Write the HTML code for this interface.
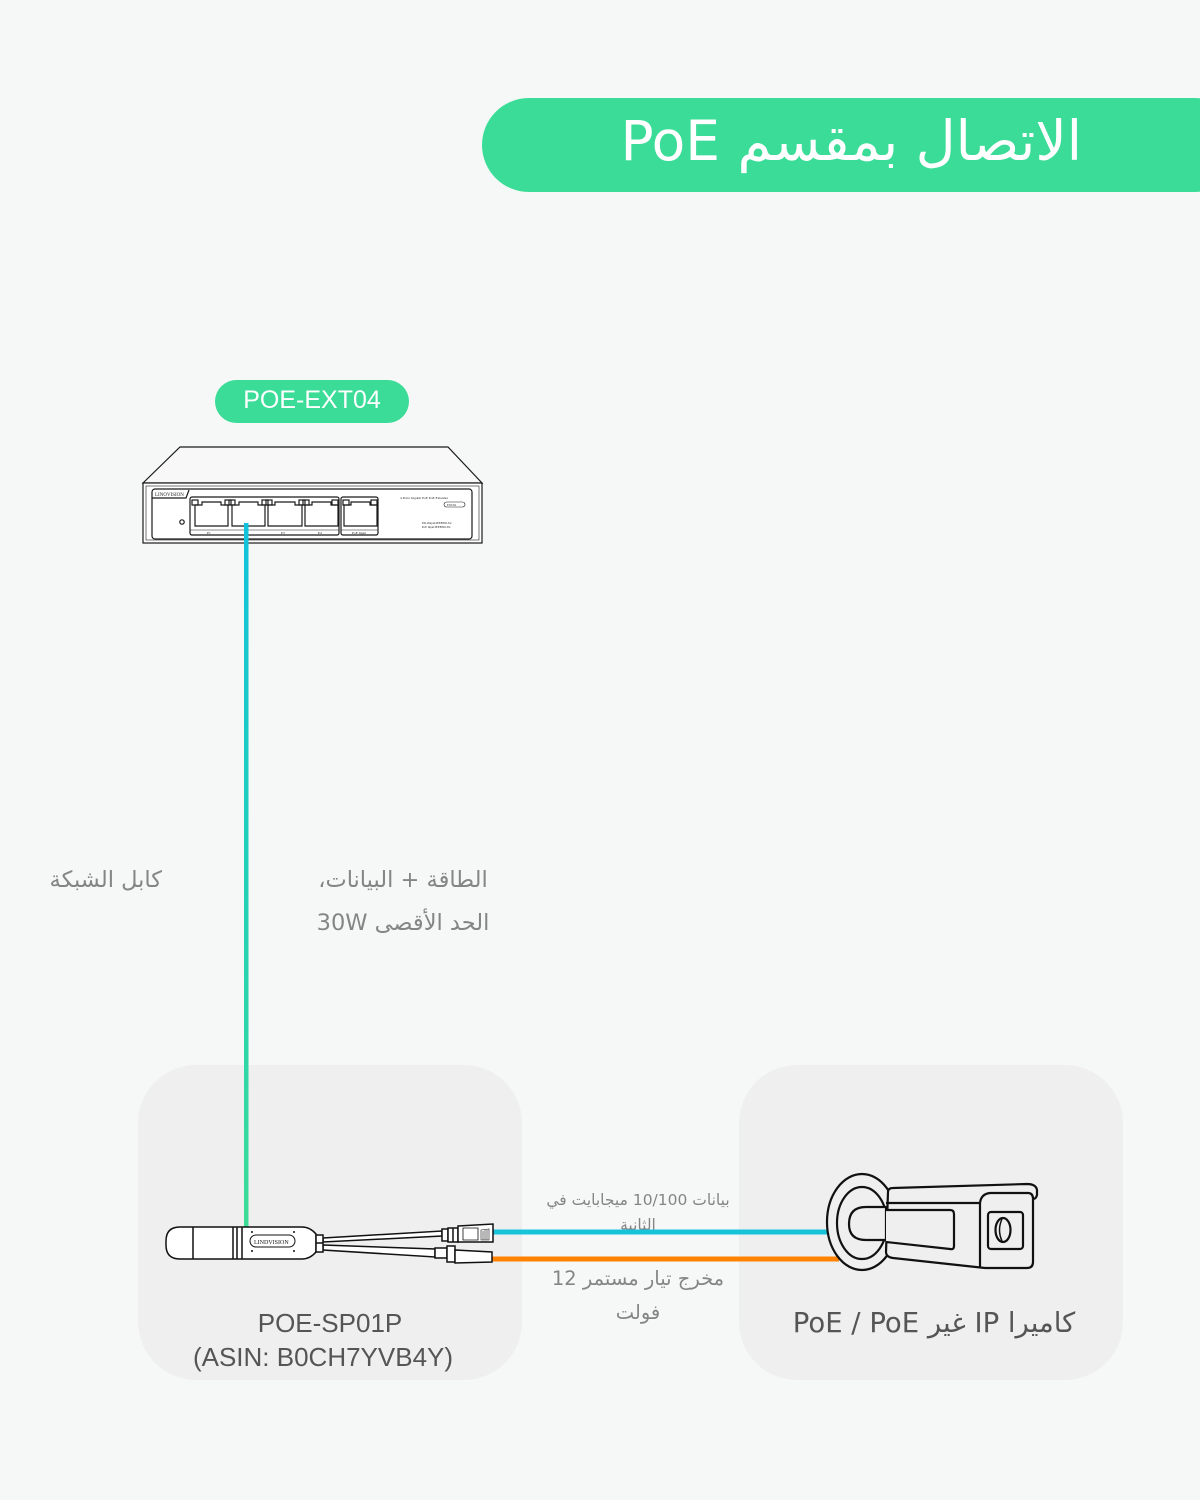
<!DOCTYPE html>
<html>
<head>
<meta charset="utf-8">
<style>
html,body{margin:0;padding:0;}
body{width:1200px;height:1500px;background:#f6f8f7;position:relative;overflow:hidden;font-family:"Liberation Sans","DejaVu Sans",sans-serif;}
.abs{position:absolute;}
.pill{position:absolute;left:482px;top:98px;width:760px;height:94px;background:#3bdc97;border-radius:47px;}
.title{position:absolute;right:118px;top:96px;height:90px;line-height:90px;font-size:55px;color:#fff;white-space:nowrap;font-family:"DejaVu Sans","Liberation Sans",sans-serif;}
.tag{position:absolute;left:215px;top:380px;width:194px;height:43px;border-radius:22px;background:#3bdc97;color:#fff;font-size:25px;line-height:41px;text-align:center;}
.box{position:absolute;top:1065px;width:384px;height:315px;background:#efefef;border-radius:58px;}
.lbl{position:absolute;color:#858585;font-family:"DejaVu Sans","Liberation Sans",sans-serif;white-space:nowrap;}
.blbl{position:absolute;color:#555;font-size:26px;line-height:34px;text-align:center;white-space:nowrap;}
</style>
</head>
<body>
<div class="pill"></div>
<div class="title" dir="rtl">الاتصال بمقسم PoE</div>
<div class="tag">POE-EXT04</div>

<div class="box" style="left:138px;"></div>
<div class="box" style="left:739px;"></div>

<div class="lbl" dir="rtl" style="right:1038px;top:865px;font-size:22.5px;line-height:30px;">كابل الشبكة</div>
<div class="lbl" dir="rtl" style="left:283px;width:240px;top:859px;font-size:22.5px;line-height:43px;text-align:center;">الطاقة + البيانات،<br>الحد الأقصى 30W</div>
<div class="lbl" dir="rtl" style="left:528px;width:220px;top:1188px;font-size:15.5px;line-height:25px;text-align:center;">بيانات 10/100 ميجابايت في<br>الثانية</div>
<div class="lbl" dir="rtl" style="left:528px;width:220px;top:1262px;font-size:19.5px;line-height:34px;text-align:center;">مخرج تيار مستمر 12<br>فولت</div>

<div class="blbl" style="left:137px;width:386px;top:1306px;">POE-SP01P</div>
<div class="blbl" style="left:130px;width:386px;top:1340px;">(ASIN: B0CH7YVB4Y)</div>
<div class="blbl" dir="rtl" style="left:739px;width:390px;top:1306px;font-family:'DejaVu Sans','Liberation Sans',sans-serif;font-size:27.5px;">كاميرا IP غير PoE / PoE</div>

<svg class="abs" style="left:0;top:0;" width="1200" height="1500" viewBox="0 0 1200 1500" xmlns="http://www.w3.org/2000/svg">
<defs>
<linearGradient id="cab" gradientUnits="userSpaceOnUse" x1="0" y1="523" x2="0" y2="1228">
<stop offset="0" stop-color="#12c2dc"/>
<stop offset="0.5" stop-color="#22d0b8"/>
<stop offset="1" stop-color="#3ddc97"/>
</linearGradient>
</defs>

<!-- Switch -->
<g fill="none" stroke="#1a1a1a" stroke-width="1.2">
<path d="M143,483 L180,447 L448,447 L482,483 Z" fill="#f8f8f8"/>
<rect x="143" y="483" width="339" height="60" fill="#fff"/>
<rect x="146" y="486" width="333" height="54" stroke-width="0.6"/>
<rect x="152" y="489" width="320" height="50" rx="3"/>
<path d="M152,498 L186,498 L189,490"/>
<rect x="190" y="497" width="149" height="38" rx="2"/>
<rect x="341" y="497" width="37" height="38" rx="2"/>
<circle cx="182" cy="522" r="2.2"/>
<g>
<path d="M195,505 h7 v-3 h19 v3 h7 v21 h-33 z"/>
<rect x="192" y="500" width="6" height="5"/><rect x="225" y="500" width="6" height="5"/>
<path d="M232,505 h7 v-3 h19 v3 h7 v21 h-33 z"/>
<rect x="229" y="500" width="6" height="5"/><rect x="262" y="500" width="6" height="5"/>
<path d="M268,505 h7 v-3 h20 v3 h7 v21 h-34 z"/>
<rect x="266" y="500" width="6" height="5"/><rect x="299" y="500" width="6" height="5"/>
<path d="M305,505 h7 v-3 h19 v3 h7 v21 h-33 z"/>
<rect x="303" y="500" width="6" height="5"/><rect x="332" y="500" width="6" height="5"/>
<path d="M344,505 h7 v-3 h19 v3 h7 v21 h-33 z"/>
<rect x="343" y="500" width="6" height="5"/><rect x="371" y="500" width="6" height="5"/>
</g>
<path d="M190,530 h149 M341,530 h37" stroke-width="0.5"/>
<rect x="444" y="502" width="21" height="5" rx="2.5" stroke-width="0.6"/>
</g>
<g font-family="Liberation Serif,serif" fill="#222">
<text x="155" y="496" font-size="5">LINOVISION</text>
<text x="400" y="499" font-size="3.5">4 Ports Gigabit PoE PoE Extender</text>
<text x="447" y="506" font-size="3">EXT04</text>
<text x="422" y="524" font-size="3">PD-Output:IEEE802.3at</text>
<text x="422" y="528" font-size="3">PoE Input:IEEE802.3bt</text>
<text x="207" y="534" font-size="3.5">P1</text>
<text x="281" y="534" font-size="3.5">P3</text>
<text x="318" y="534" font-size="3.5">P4</text>
<text x="352" y="534" font-size="3.5">PoE Input</text>
</g>

<!-- vertical cable -->
<rect x="244" y="523" width="4.5" height="705" fill="url(#cab)"/>

<!-- cyan & orange lines -->
<rect x="492" y="1229.5" width="336" height="5" fill="#16c3d8"/>
<rect x="492" y="1256.5" width="347" height="5" fill="#ff8200"/>

<!-- Splitter -->
<g fill="#fff" stroke="#111" stroke-width="1.5">
<path d="M323,1238 L442,1231 L442,1236 L323,1242 Z"/>
<path d="M323,1245 L435,1249 L435,1257 L323,1250 Z"/>
<path d="M180,1227 L302,1227 Q310,1227 316,1234 L316,1252 Q310,1259 302,1259 L180,1259 Q166,1259 166,1245 L166,1241 Q166,1227 180,1227 Z"/>
<line x1="193" y1="1227" x2="193" y2="1259"/>
<line x1="233" y1="1227" x2="233" y2="1259"/>
<line x1="237" y1="1227" x2="237" y2="1259"/>
<line x1="242" y1="1227" x2="242" y2="1259"/>
<rect x="250" y="1235" width="45" height="12" rx="6" stroke-width="1"/>
<rect x="316" y="1235" width="7" height="17"/>
<line x1="316" y1="1243" x2="323" y2="1243"/>
<rect x="442" y="1229" width="6" height="12"/>
<rect x="448" y="1228" width="10" height="14"/>
<line x1="453" y1="1228" x2="453" y2="1242"/>
<path d="M458,1226 L493,1224 L493,1242 L458,1242 Z"/>
<path d="M463,1228 L478,1228 L478,1240 L463,1240 Z" stroke-width="0.8"/>
<path d="M481,1230 L489,1229 L489,1240 L481,1240 Z M483,1231 V1240 M485,1230 V1240 M487,1230 V1240" stroke-width="0.6"/>
<rect x="435" y="1248" width="12" height="10"/>
<rect x="447" y="1246" width="8" height="16"/>
<path d="M455,1250 L492,1252 L492,1262 L455,1263 Z"/>
</g>
<g fill="#111">
<circle cx="252" cy="1232" r="1"/><circle cx="252" cy="1251" r="1"/>
<circle cx="294" cy="1232" r="1"/><circle cx="294" cy="1251" r="1"/>
<text x="254" y="1244" font-size="6" font-family="Liberation Serif,serif">LINDVISION</text>
</g>

<!-- Camera -->
<g fill="#efefef" stroke="#111" stroke-width="2.2" stroke-linejoin="round">
<ellipse cx="862" cy="1222" rx="35" ry="48"/>
<ellipse cx="862" cy="1223" rx="25" ry="36"/>
<path d="M886,1207 L866,1207 Q849,1207 849,1224 Q849,1240 866,1240 L886,1240 Z"/>
<path d="M888,1192 Q888,1188 893,1188 L1027,1184 Q1036,1184 1037,1190 L1037,1195 Q1036,1199 1033,1199 L1033,1262 Q1033,1268 1027,1268 L985,1268 L893,1258 Q886,1257 886,1252 Z"/>
<path d="M886,1203 L980,1203"/>
<path d="M980,1203 Q981,1194 990,1193 L1028,1193 Q1033,1193 1033,1199"/>
<path d="M980,1203 L980,1268"/>
<path d="M886,1210 L950,1210 Q954,1210 954,1214 L954,1246 Q954,1250 950,1249 L886,1242"/>
<rect x="988" y="1212" width="35" height="37" rx="3"/>
<ellipse cx="1003" cy="1230" rx="7.5" ry="12"/>
<path d="M1002,1219 Q997,1230 1002,1241" fill="none" stroke-width="1.5"/>
</g>
</svg>
</body>
</html>
